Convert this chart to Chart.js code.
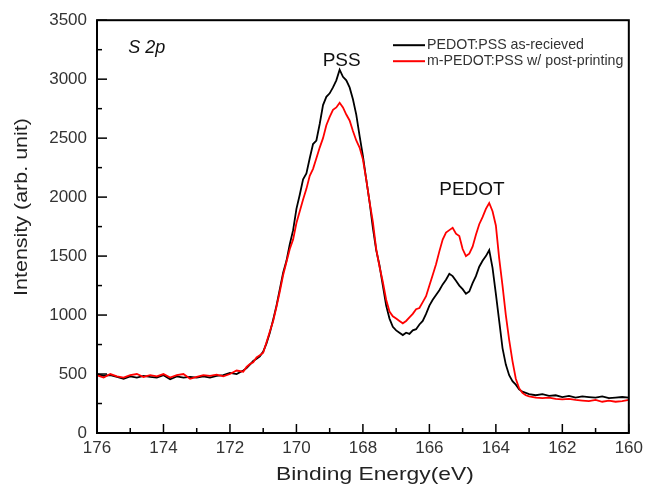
<!DOCTYPE html>
<html>
<head>
<meta charset="utf-8">
<script src="https://cdn.jsdelivr.net/npm/chart.js@4.4.1/dist/chart.umd.min.js"></script>
<style>
  html, body { margin: 0; padding: 0; background: #fff; }
  #wrap { width: 648px; height: 485px; }
</style>
</head>
<body>
<div id="wrap"><canvas id="chart"></canvas></div>
<script>
"use strict";

// binding energy (eV)
const energy = [
  176.0, 175.8, 175.6, 175.4, 175.2, 175.0, 174.8, 174.6, 174.4, 174.2,
  174.0, 173.8, 173.6, 173.4, 173.2, 173.0, 172.8, 172.6, 172.4, 172.2,
  172.0, 171.8, 171.6,
  171.5, 171.4, 171.3, 171.2, 171.1, 171.0, 170.9, 170.8, 170.7, 170.6,
  170.5, 170.4, 170.3, 170.2, 170.1, 170.0, 169.9, 169.8, 169.7, 169.6,
  169.5, 169.4, 169.3, 169.2, 169.1, 169.0, 168.9, 168.8, 168.7, 168.6,
  168.5, 168.4, 168.3, 168.2, 168.1, 168.0, 167.9, 167.8, 167.7, 167.6,
  167.5, 167.4, 167.3, 167.2, 167.1, 167.0, 166.9, 166.8, 166.7, 166.6,
  166.5, 166.4, 166.3, 166.2, 166.1, 166.0, 165.9, 165.8, 165.7, 165.6,
  165.5, 165.4, 165.3, 165.2, 165.1, 165.0, 164.9, 164.8, 164.7, 164.6,
  164.5, 164.4, 164.3, 164.2, 164.1, 164.0, 163.9, 163.8, 163.7, 163.6,
  163.5, 163.4, 163.3, 163.2, 163.1,
  163.0, 162.8, 162.6, 162.4, 162.2, 162.0, 161.8, 161.6, 161.4, 161.2,
  161.0, 160.8, 160.6, 160.4, 160.2, 160.0
];

const asReceived = [
  500, 485, 490, 475, 460, 480, 470, 485, 475, 470,
  490, 455, 480, 470, 475, 470, 480, 470, 485, 490,
  510, 500, 530,
  550, 580, 610, 630, 650, 690, 760, 850, 960, 1080,
  1220, 1360, 1460, 1600, 1720, 1900, 2020, 2150, 2200, 2330,
  2450, 2480, 2620, 2780, 2850, 2880, 2930, 2990, 3080, 3020,
  2990, 2930, 2830, 2700, 2520, 2350, 2150, 1960, 1740, 1550,
  1420, 1250, 1080, 970, 900, 870, 850, 830, 850, 840,
  870, 880, 920, 950, 1010, 1080, 1130, 1170, 1210, 1260,
  1300, 1350, 1330, 1290, 1250, 1220, 1180, 1200, 1270, 1330,
  1410, 1460, 1500, 1550, 1400, 1180, 950, 720, 580, 490,
  440, 410, 370, 350, 340,
  330, 320, 330, 315, 320, 305, 315, 300, 310, 305,
  300, 310, 295, 300, 305, 300
];

const postPrinting = [
  490, 470, 500, 480, 470, 490, 500, 475, 490, 480,
  500, 470, 490, 500, 460, 475, 490, 485, 495, 480,
  500, 530, 520,
  560, 585, 600, 640, 660, 680, 770, 860, 950, 1070,
  1200, 1340, 1450, 1560, 1640, 1780, 1880, 1980, 2070, 2180,
  2240, 2330, 2420, 2500, 2610, 2680, 2740, 2760, 2800, 2760,
  2700, 2650, 2560, 2480, 2420, 2320, 2150, 1960, 1790, 1560,
  1410, 1280, 1130, 1030, 990, 970, 950, 930, 950, 980,
  1010, 1050, 1060, 1110, 1160, 1250, 1340, 1430, 1540, 1640,
  1700, 1720, 1740, 1690, 1670, 1560, 1500, 1520, 1580, 1680,
  1770, 1830, 1900, 1950, 1880, 1760, 1480, 1250, 1000, 790,
  610, 460, 380, 340, 320,
  310, 300, 295, 300, 290, 285, 290, 280, 275, 270,
  280, 265, 275, 265, 270, 280
];

const seriesLabels = ["PEDOT:PSS as-recieved", "m-PEDOT:PSS w/ post-printing"];
const xTicks = [176, 174, 172, 170, 168, 166, 164, 162, 160];
const yTicks = [0, 500, 1000, 1500, 2000, 2500, 3000, 3500];
const xTitle = "Binding Energy(eV)";
const yTitle = "Intensity (arb. unit)";

const FONT = "'Liberation Sans', Arial, sans-serif";
const TEXT_COLOR = "#333";

const toPoints = (ys) => ys.map((y, i) => ({ x: energy[i], y: y }));

// text drawn a little wider than the font, like the original export
const drawWideText = (ctx, text, x, y, rotate, stretch) => {
  ctx.save();
  ctx.translate(x, y);
  if (rotate) ctx.rotate(-Math.PI / 2);
  ctx.scale(stretch, 1);
  ctx.fillText(text, 0, 0);
  ctx.restore();
};

// inward ticks, frame, legend, titles and peak labels
const decorPlugin = {
  id: "decor",
  afterDatasetsDraw(chart) {
    const ctx = chart.ctx;
    const area = chart.chartArea;
    const xs = chart.scales.x;
    const ys = chart.scales.y;
    ctx.save();
    ctx.strokeStyle = "#000";
    ctx.lineWidth = 1.5;

    // x ticks (major every 2, minor every 1)
    for (let v = 160; v <= 176; v++) {
      const px = xs.getPixelForValue(v);
      const len = v % 2 === 0 ? 9 : 5;
      ctx.beginPath();
      ctx.moveTo(px, area.bottom);
      ctx.lineTo(px, area.bottom - len);
      ctx.stroke();
    }
    // y ticks (major every 500, minor every 250)
    for (let v = 0; v <= 3500; v += 250) {
      const py = ys.getPixelForValue(v);
      const len = v % 500 === 0 ? 10 : 5;
      ctx.beginPath();
      ctx.moveTo(area.left, py);
      ctx.lineTo(area.left + len, py);
      ctx.stroke();
    }

    // frame
    ctx.lineWidth = 2;
    ctx.strokeRect(area.left, area.top, area.right - area.left, area.bottom - area.top);

    // legend
    const legendX = area.left + 296;
    const legendY = area.top + 25;
    chart.data.datasets.forEach((ds, i) => {
      const y = legendY + i * 16;
      ctx.strokeStyle = ds.borderColor;
      ctx.lineWidth = 2;
      ctx.beginPath();
      ctx.moveTo(legendX, y);
      ctx.lineTo(legendX + 32, y);
      ctx.stroke();
      ctx.fillStyle = TEXT_COLOR;
      ctx.font = "14.2px " + FONT;
      ctx.textBaseline = "middle";
      ctx.textAlign = "left";
      ctx.fillText(ds.label, legendX + 34, y);
    });

    // axis titles
    ctx.fillStyle = "#222";
    ctx.font = "19px " + FONT;
    ctx.textAlign = "center";
    ctx.textBaseline = "alphabetic";
    drawWideText(ctx, xTitle, (area.left + area.right) / 2 + 12, 480, false, 1.2);
    drawWideText(ctx, yTitle, 27, 207, true, 1.13);

    // annotations
    ctx.fillStyle = "#111";
    ctx.textAlign = "center";
    ctx.textBaseline = "middle";
    ctx.font = "italic 18px " + FONT;
    ctx.fillText("S 2p", xs.getPixelForValue(174.5), ys.getPixelForValue(3265));
    ctx.font = "19px " + FONT;
    ctx.fillText("PSS", xs.getPixelForValue(168.64), ys.getPixelForValue(3160));
    ctx.fillText("PEDOT", xs.getPixelForValue(164.72), ys.getPixelForValue(2060));
    ctx.restore();
  },
};

new Chart(document.getElementById("chart"), {
  type: "line",
  data: {
    datasets: [
      {
        label: seriesLabels[0],
        data: toPoints(asReceived),
        borderColor: "#000000",
        borderWidth: 1.8,
        pointRadius: 0,
        tension: 0,
        order: 1,
      },
      {
        label: seriesLabels[1],
        data: toPoints(postPrinting),
        borderColor: "#ff0000",
        borderWidth: 1.8,
        pointRadius: 0,
        tension: 0,
        order: 0,
      },
    ],
  },
  options: {
    responsive: true,
    maintainAspectRatio: false,
    animation: false,
    layout: { padding: { top: 17, right: 15, left: 0, bottom: 0 } },
    plugins: {
      legend: { display: false },
      tooltip: { enabled: false },
    },
    scales: {
      x: {
        type: "linear",
        reverse: true,
        min: 160,
        max: 176,
        afterBuildTicks: (scale) => {
          scale.ticks = xTicks.map((v) => ({ value: v }));
        },
        afterFit: (scale) => {
          scale.height = 52;
        },
        grid: { display: false, drawTicks: false },
        border: { display: false },
        ticks: {
          color: TEXT_COLOR,
          font: { family: FONT, size: 17 },
          padding: 5,
          maxRotation: 0,
          callback: (v) => String(v),
        },
      },
      y: {
        type: "linear",
        min: 0,
        max: 3500,
        afterBuildTicks: (scale) => {
          scale.ticks = yTicks.map((v) => ({ value: v }));
        },
        afterFit: (scale) => {
          scale.width = 97;
        },
        grid: { display: false, drawTicks: false },
        border: { display: false },
        ticks: {
          color: TEXT_COLOR,
          font: { family: FONT, size: 17 },
          padding: 10,
          callback: (v) => String(v),
        },
      },
    },
  },
  plugins: [decorPlugin],
});
</script>
</body>
</html>
